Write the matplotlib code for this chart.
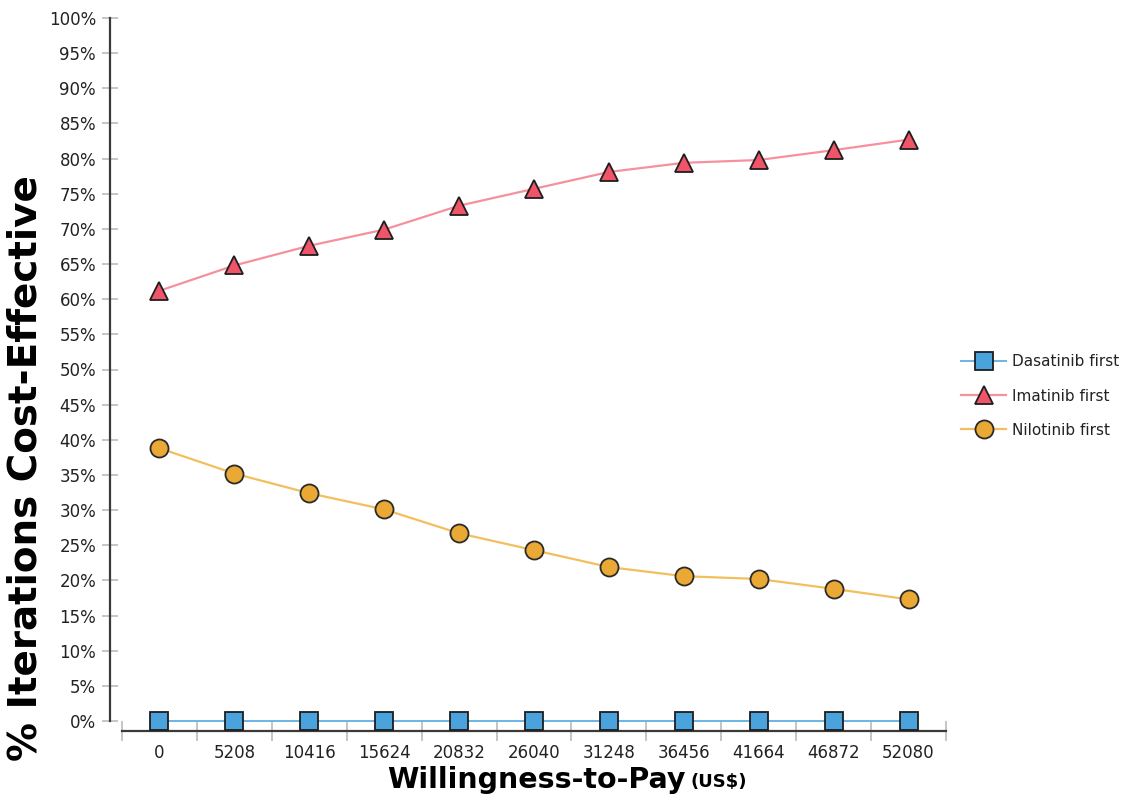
import matplotlib
matplotlib.use("Agg")
import matplotlib.pyplot as plt
import numpy as np

wtp = ["0", "5208", "10416", "15624", "20832", "26040", "31248", "36456", "41664", "46872", "52080"]
dasatinib = [0, 0, 0, 0, 0, 0, 0, 0, 0, 0, 0]
imatinib = [61.2, 64.8, 67.6, 69.9, 73.3, 75.7, 78.1, 79.4, 79.8, 81.2, 82.7]
nilotinib = [38.8, 35.2, 32.4, 30.1, 26.7, 24.3, 21.9, 20.6, 20.2, 18.8, 17.3]
yticks = list(range(0, 101, 5))
series_names = ["Dasatinib first", "Imatinib first", "Nilotinib first"]

W, H = 1143, 796
px = 72 / 100  # points per pixel
fig = plt.figure(figsize=(W / 100, H / 100), dpi=100)
ax = fig.add_axes([122 / W, 1 - 721 / H, (946 - 122) / W, (721 - 18) / H])

x = np.arange(len(wtp))
ax.plot(x, dasatinib, color="#6cb4e4", lw=1.4, marker="s", ms=12.5, mfc="#4aa3dc",
        mec="#1e1e1e", mew=1.3, clip_on=False, zorder=3, label=series_names[0])
ax.plot(x, imatinib, color="#f7909e", lw=1.6, marker="^", ms=13.5, mfc="#ef5468",
        mec="#1e1e1e", mew=1.3, clip_on=False, zorder=3, label=series_names[1])
ax.plot(x, nilotinib, color="#f3bf5e", lw=1.6, marker="o", ms=13, mfc="#eaa935",
        mec="#2a2a2a", mew=1.3, clip_on=False, zorder=3, label=series_names[2])

ax.set_xlim(-0.5, len(wtp) - 0.5)
ax.set_ylim(0, 100)

for s in ["top", "right"]:
    ax.spines[s].set_visible(False)
ax.spines["left"].set_position(("outward", 12 * px))
ax.spines["bottom"].set_position(("outward", 10 * px))
for s in ["left", "bottom"]:
    ax.spines[s].set_color("#3a3a3a")
    ax.spines[s].set_linewidth(1.6)

ax.set_yticks(yticks)
ax.set_yticklabels([f"{v}%" for v in yticks])
ax.tick_params(axis="y", direction="inout", length=12, width=1.2, color="#bbbbbb",
               labelsize=12, labelcolor="#222222", pad=4)

ax.set_xticks(x)
ax.set_xticklabels(wtp)
ax.set_xticks(np.arange(-0.5, len(wtp), 1.0), minor=True)
ax.tick_params(axis="x", which="major", length=0, labelsize=12, labelcolor="#222222", pad=9)
ax.tick_params(axis="x", which="minor", direction="inout", length=14, width=1.2, color="#bbbbbb")

fig.text(26 / W, 1 - 468 / H, "% Iterations Cost-Effective", fontsize=28,
         fontweight="heavy", color="black", rotation=90, ha="center", va="center")
fig.text(686 / W, 1 - 780 / H, "Willingness-to-Pay", fontsize=20.5,
         fontweight="heavy", ha="right", va="center")
fig.text(690 / W, 1 - 782 / H, "(US$)", fontsize=13,
         fontweight="bold", ha="left", va="center")

leg = ax.legend(loc="center left", bbox_to_anchor=(953 / W, 1 - 396 / H),
                bbox_transform=fig.transFigure, frameon=False, fontsize=11,
                handlelength=3.0, labelspacing=1.25, handletextpad=0.35, borderpad=0)
for t in leg.get_texts():
    t.set_color("#222222")

fig.savefig("out.png", dpi=100)
